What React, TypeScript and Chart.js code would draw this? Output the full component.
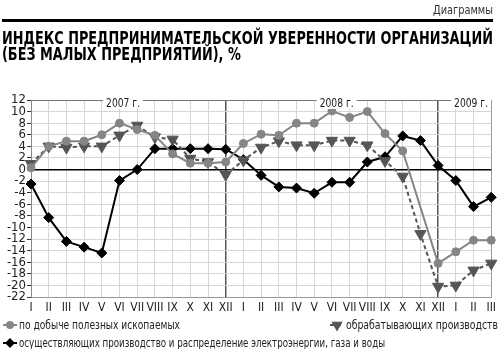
import React, { useEffect, useRef } from 'react';
import { Chart, registerables } from 'chart.js';

Chart.register(...registerables);

const monthLabels = ['I','II','III','IV','V','VI','VII','VIII','IX','X','XI','XII','I','II','III','IV','V','VI','VII','VIII','IX','X','XI','XII','I','II','III'];
const miningValues = [0.3, 4, 4.9, 4.9, 6, 8, 6.9, 5.9, 2.7, 1.1, 1.1, 1.3, 4.5, 6.1, 5.9, 8, 8, 10.1, 9, 10, 6.2, 3.2, null, -16.2, -14.2, -12.2, -12.2];
const manufacturingValues = [1, 4, 3.8, 4, 4, 5.9, 7.6, 5.6, 5.2, 1.9, 1.3, -0.9, 1.6, 3.8, 4.9, 4.2, 4.2, 5, 5, 4.2, 1.5, -1.2, -11.1, -20.2, -20, -17.4, -16.2];
const energyValues = [-2.5, -8.3, -12.4, -13.4, -14.4, -1.9, 0, 3.6, 3.6, 3.6, 3.6, 3.5, 1.7, -1, -3, -3.2, -4.1, -2.2, -2.2, 1.3, 2.2, 5.8, 5, 0.7, -1.9, -6.4, -4.8];
const yTickValues = [12, 10, 8, 6, 4, 2, 0, -2, -4, -6, -8, -10, -12, -14, -16, -18, -20, -22];
const yearLabels = ['2007 г.', '2008 г.', '2009 г.'];
const yearLabelAnchors = [5.2, 17.27, 24.86];
const seriesNames = [
  'по добыче полезных ископаемых',
  'обрабатывающих производств',
  'осуществляющих производство и распределение электроэнергии, газа и воды',
];
const titleLines = [
  'ИНДЕКС ПРЕДПРИНИМАТЕЛЬСКОЙ УВЕРЕННОСТИ ОРГАНИЗАЦИЙ',
  '(БЕЗ МАЛЫХ ПРЕДПРИЯТИЙ), %',
];
const headerLabel = 'Диаграммы';

const COND = '"DejaVu Sans Condensed", "Liberation Sans", sans-serif';

function drawSymbol(ctx: CanvasRenderingContext2D, style: string, r: number, x: number, y: number) {
  ctx.beginPath();
  if (style === 'circle') {
    ctx.arc(x, y, r, 0, Math.PI * 2);
  } else if (style === 'rectRot') {
    ctx.moveTo(x, y - r);
    ctx.lineTo(x + r, y);
    ctx.lineTo(x, y + r);
    ctx.lineTo(x - r, y);
    ctx.closePath();
  } else {
    const h = r * 1.5;
    const half = r * 0.87;
    ctx.moveTo(x - half, y - h / 3);
    ctx.lineTo(x + half, y - h / 3);
    ctx.lineTo(x, y + (2 * h) / 3);
    ctx.closePath();
  }
  ctx.fill();
}

function fitText(ctx: CanvasRenderingContext2D, text: string, x: number, y: number, width: number, align: 'left' | 'right' | 'center') {
  const w = ctx.measureText(text).width;
  const s = width / w;
  ctx.save();
  ctx.translate(x, y);
  ctx.scale(s, 1);
  ctx.textAlign = 'left';
  const ox = align === 'right' ? -w : align === 'center' ? -w / 2 : 0;
  ctx.fillText(text, ox, 0);
  ctx.restore();
}

export default function App() {
  const ref = useRef<HTMLCanvasElement>(null);
  useEffect(() => {
    const canvas = ref.current!;
    const decor = {
      id: 'decor',
      afterDraw(chart: any) {
        const ctx: CanvasRenderingContext2D = chart.ctx;
        const xs = chart.scales.x;
        const ys = chart.scales.y;
        ctx.save();
        ctx.textBaseline = 'alphabetic';
        // header
        ctx.fillStyle = '#333';
        ctx.font = `12px ${COND}`;
        fitText(ctx, headerLabel, 493, 14, 60, 'right');
        ctx.fillStyle = '#000';
        ctx.fillRect(2, 19, 491, 3);
        // title
        ctx.font = `bold 17px ${COND}`;
        const w = ctx.measureText(titleLines[0]).width;
        const sx = 491 / w;
        ctx.save();
        ctx.translate(2, 0);
        ctx.scale(sx, 1);
        ctx.textAlign = 'left';
        ctx.fillText(titleLines[0], 0, 43.5);
        ctx.fillText(titleLines[1], 0, 59.5);
        ctx.restore();
        // year labels
        ctx.font = `13px ${COND}`;
        yearLabels.forEach((lab, i) => {
          const cx = xs.getPixelForValue(yearLabelAnchors[i]);
          ctx.fillStyle = '#fff';
          ctx.fillRect(cx - 20, ys.top - 4, 40, 13);
          ctx.fillStyle = '#222';
          fitText(ctx, lab, cx, ys.top + 7, 34, 'center');
        });
        // legend
        const dss = chart.data.datasets;
        const items = [
          { ds: dss[0], x: 10, y: 325, name: seriesNames[0], w: 161 },
          { ds: dss[1], x: 337, y: 325, name: seriesNames[1], w: 152 },
          { ds: dss[2], x: 10, y: 343, name: seriesNames[2], w: 366 },
        ];
        items.forEach((it) => {
          const ds = it.ds;
          ctx.save();
          ctx.strokeStyle = ds.borderColor;
          ctx.lineWidth = ds.borderWidth;
          ctx.setLineDash(ds.borderDash || []);
          ctx.beginPath();
          ctx.moveTo(it.x - 7, it.y);
          ctx.lineTo(it.x + 7, it.y);
          ctx.stroke();
          ctx.setLineDash([]);
          ctx.fillStyle = ds.pointBackgroundColor;
          drawSymbol(ctx, ds.pointStyle, ds.pointRadius, it.x, it.y);
          ctx.restore();
          ctx.font = `12.5px ${COND}`;
          ctx.textBaseline = 'middle';
          ctx.fillStyle = '#222';
          fitText(ctx, it.name, it.x + 9, it.y + 0.5, it.w, 'left');
        });
        ctx.restore();
      },
    };

    const chart = new Chart(canvas, {
      type: 'line',
      data: {
        labels: monthLabels,
        datasets: [
          {
            label: seriesNames[0],
            data: miningValues,
            borderColor: '#858585',
            backgroundColor: '#858585',
            pointBackgroundColor: '#858585',
            pointBorderColor: '#858585',
            borderWidth: 2,
            pointStyle: 'circle',
            pointRadius: 4,
            pointBorderWidth: 1,
            spanGaps: true,
            tension: 0,
          } as any,
          {
            label: seriesNames[1],
            data: manufacturingValues,
            borderColor: '#555',
            backgroundColor: '#555',
            pointBackgroundColor: '#555',
            pointBorderColor: '#555',
            borderWidth: 2,
            borderDash: [4, 3],
            pointStyle: 'triangle',
            pointRotation: 180,
            pointRadius: 6.5,
            pointBorderWidth: 1,
            tension: 0,
          } as any,
          {
            label: seriesNames[2],
            data: energyValues,
            borderColor: '#000',
            backgroundColor: '#000',
            pointBackgroundColor: '#000',
            pointBorderColor: '#000',
            borderWidth: 2,
            pointStyle: 'rectRot',
            pointRadius: 5,
            pointBorderWidth: 1,
            tension: 0,
          } as any,
        ],
      },
      options: {
        animation: false,
        responsive: false,
        devicePixelRatio: 1,
        layout: { padding: { top: 100, right: 6, bottom: 34, left: 0 } },
        plugins: { legend: { display: false }, tooltip: { enabled: false }, title: { display: false } },
        scales: {
          x: {
            type: 'category',
            offset: false,
            afterFit: (s: any) => { s.height = 18; },
            grid: {
              drawTicks: false,
              color: (c: any) => {
                const i = c.index;
                if (i === 11 || i === 23) return '#555';
                if (i === 0) return '#888';
                if (i === monthLabels.length - 1) return '#999';
                return '#d6d6d6';
              },
              lineWidth: (c: any) => (c.index === 11 || c.index === 23 ? 1.5 : 1),
            },
            border: { display: true, color: '#999' },
            ticks: {
              autoSkip: false,
              maxRotation: 0,
              minRotation: 0,
              padding: 4,
              color: '#222',
              font: { family: COND, size: 12 },
            },
          },
          y: {
            min: -22,
            max: 12,
            afterFit: (s: any) => { s.width = 31; },
            afterBuildTicks: (s: any) => { s.ticks = yTickValues.map((v) => ({ value: v })); },
            grid: {
              drawTicks: true,
              tickLength: 4,
              tickColor: '#333',
              color: (c: any) => {
                const v = c.tick && c.tick.value;
                if (v === 0) return '#000';
                if (v === 12) return '#777';
                if (v === -22) return '#999';
                return '#d6d6d6';
              },
              lineWidth: (c: any) => (c.tick && c.tick.value === 0 ? 1.5 : 1),
            },
            border: { display: true, color: '#888' },
            ticks: {
              autoSkip: false,
              padding: 1,
              color: '#222',
              font: { family: COND, size: 13 },
              callback: (v: any) => String(v),
            },
          },
        },
      },
      plugins: [decor],
    } as any);
    return () => chart.destroy();
  }, []);

  return (
    <div style={{ position: 'absolute', left: 0, top: 0, width: 500, height: 349, background: '#fff' }}>
      <canvas ref={ref} width={500} height={349} style={{ display: 'block', width: 500, height: 349 }} />
    </div>
  );
}
